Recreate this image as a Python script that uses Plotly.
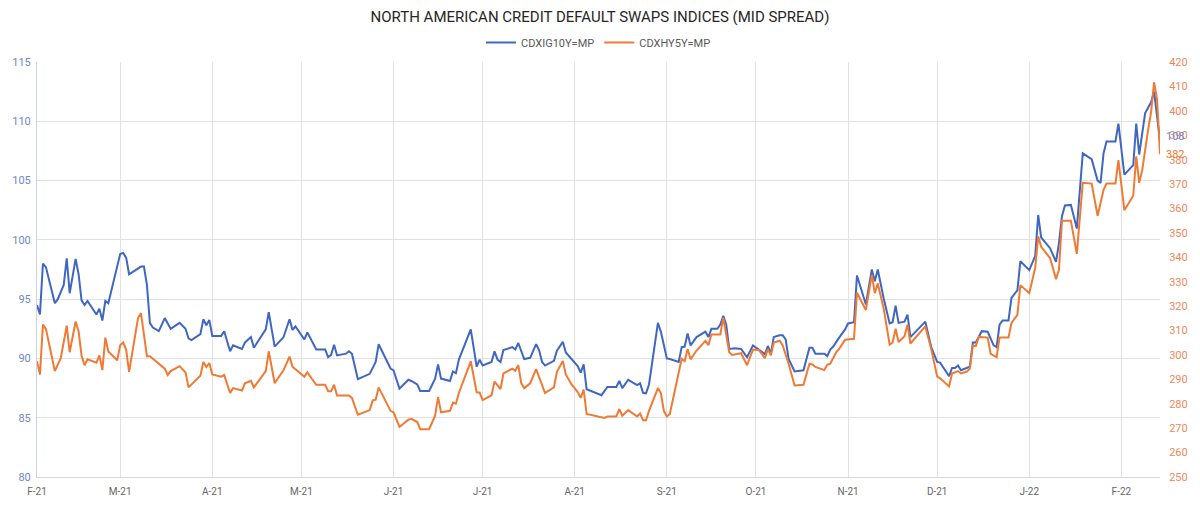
import plotly.graph_objects as go

# ---------------- data ----------------
ig_dates = [
    "2021-02-01", "2021-02-02", "2021-02-03", "2021-02-04", "2021-02-07", "2021-02-08", "2021-02-10", "2021-02-11",
    "2021-02-12", "2021-02-13", "2021-02-14", "2021-02-15", "2021-02-16", "2021-02-17", "2021-02-18", "2021-02-21",
    "2021-02-22", "2021-02-23", "2021-02-24", "2021-02-25", "2021-03-01", "2021-03-02", "2021-03-03", "2021-03-04",
    "2021-03-08", "2021-03-09", "2021-03-10", "2021-03-11", "2021-03-12", "2021-03-14", "2021-03-16", "2021-03-18",
    "2021-03-21", "2021-03-23", "2021-03-24", "2021-03-25", "2021-03-28", "2021-03-29", "2021-03-30", "2021-03-31",
    "2021-04-01", "2021-04-04", "2021-04-05", "2021-04-07", "2021-04-08", "2021-04-11", "2021-04-12", "2021-04-14",
    "2021-04-15", "2021-04-19", "2021-04-20", "2021-04-22", "2021-04-25", "2021-04-27", "2021-04-28", "2021-04-29",
    "2021-05-02", "2021-05-03", "2021-05-06", "2021-05-09", "2021-05-10", "2021-05-11", "2021-05-12", "2021-05-13",
    "2021-05-16", "2021-05-17", "2021-05-18", "2021-05-20", "2021-05-24", "2021-05-26", "2021-05-27", "2021-05-31",
    "2021-06-01", "2021-06-03", "2021-06-06", "2021-06-07", "2021-06-09", "2021-06-10", "2021-06-13", "2021-06-15",
    "2021-06-16", "2021-06-17", "2021-06-20", "2021-06-21", "2021-06-22", "2021-06-23", "2021-06-27", "2021-06-29",
    "2021-06-30", "2021-07-01", "2021-07-04", "2021-07-05", "2021-07-06", "2021-07-07", "2021-07-08", "2021-07-11",
    "2021-07-12", "2021-07-13", "2021-07-15", "2021-07-17", "2021-07-19", "2021-07-20", "2021-07-21", "2021-07-22",
    "2021-07-25", "2021-07-26", "2021-07-28", "2021-07-29", "2021-08-01", "2021-08-02", "2021-08-03", "2021-08-04",
    "2021-08-05", "2021-08-08", "2021-08-10", "2021-08-12", "2021-08-15", "2021-08-16", "2021-08-17", "2021-08-19",
    "2021-08-22", "2021-08-23", "2021-08-24", "2021-08-25", "2021-08-26", "2021-08-29", "2021-08-30", "2021-09-01",
    "2021-09-02", "2021-09-05", "2021-09-06", "2021-09-07", "2021-09-08", "2021-09-09", "2021-09-11", "2021-09-14",
    "2021-09-15", "2021-09-16", "2021-09-18", "2021-09-19", "2021-09-20", "2021-09-21", "2021-09-22", "2021-09-24",
    "2021-09-26", "2021-09-28", "2021-09-30", "2021-10-03", "2021-10-04", "2021-10-05", "2021-10-06", "2021-10-07",
    "2021-10-09", "2021-10-10", "2021-10-11", "2021-10-12", "2021-10-14", "2021-10-17", "2021-10-19", "2021-10-20",
    "2021-10-21", "2021-10-24", "2021-10-25", "2021-10-26", "2021-10-27", "2021-10-29", "2021-10-31", "2021-11-01",
    "2021-11-03", "2021-11-04", "2021-11-07", "2021-11-09", "2021-11-10", "2021-11-11", "2021-11-13", "2021-11-15",
    "2021-11-16", "2021-11-17", "2021-11-18", "2021-11-20", "2021-11-21", "2021-11-22", "2021-11-27", "2021-11-29",
    "2021-12-01", "2021-12-02", "2021-12-05", "2021-12-06", "2021-12-07", "2021-12-08", "2021-12-09", "2021-12-12",
    "2021-12-13", "2021-12-14", "2021-12-16", "2021-12-18", "2021-12-20", "2021-12-21", "2021-12-22", "2021-12-23",
    "2021-12-25", "2021-12-26", "2021-12-28", "2021-12-29", "2022-01-01", "2022-01-03", "2022-01-04", "2022-01-05",
    "2022-01-08", "2022-01-10", "2022-01-11", "2022-01-12", "2022-01-13", "2022-01-15", "2022-01-17", "2022-01-19",
    "2022-01-22", "2022-01-24", "2022-01-25", "2022-01-26", "2022-01-27", "2022-01-30", "2022-01-31", "2022-02-02",
    "2022-02-05", "2022-02-06", "2022-02-07", "2022-02-09", "2022-02-11", "2022-02-12", "2022-02-14",
]
ig_values = [
    94.5, 93.7, 98.0, 97.7, 94.65, 95.0, 96.2, 98.45,
    95.5, 97.0, 98.4, 97.1, 94.9, 94.5, 94.85, 93.7,
    94.2, 93.2, 94.85, 94.65, 98.8, 98.9, 98.5, 97.1,
    97.75, 97.75, 96.2, 93.0, 92.6, 92.3, 93.4, 92.5,
    93.0, 92.5, 91.7, 91.55, 92.05, 93.3, 92.8, 93.25,
    91.9, 91.9, 92.3, 90.6, 91.1, 90.8, 91.35, 91.8,
    90.9, 92.45, 93.9, 91.0, 91.8, 93.3, 92.4, 92.7,
    91.6, 92.2, 90.75, 90.75, 90.1, 90.3, 91.15, 90.25,
    90.4, 90.6, 90.4, 88.25, 88.7, 89.7, 91.2, 89.15,
    89.0, 87.45, 88.2, 88.1, 87.8, 87.25, 87.25, 88.3,
    89.5, 88.3, 88.1, 88.9, 88.75, 89.9, 92.45, 89.3,
    89.9, 89.4, 89.7, 90.6, 89.9, 89.7, 90.7, 90.95,
    90.75, 91.3, 89.95, 90.05, 91.2, 90.7, 89.7, 89.4,
    89.8, 90.65, 91.4, 90.5, 89.6, 89.35, 88.8, 89.5,
    87.4, 87.1, 86.9, 87.6, 87.6, 88.1, 87.5, 88.2,
    87.75, 87.9, 87.1, 87.05, 87.8, 93.0, 92.25, 90.0,
    89.95, 89.7, 90.95, 91.0, 92.1, 91.1, 91.8, 92.25,
    91.8, 92.5, 92.5, 92.85, 93.6, 92.85, 90.8, 90.85,
    90.8, 90.1, 91.1, 90.55, 90.35, 91.05, 90.4, 91.8,
    91.95, 91.95, 91.6, 89.95, 88.9, 89.0, 90.9, 90.9,
    90.4, 90.4, 90.2, 90.75, 91.0, 91.75, 92.45, 92.95,
    93.05, 97.0, 94.55, 97.5, 96.5, 97.5, 95.05, 92.95,
    93.05, 94.45, 93.0, 93.1, 93.7, 91.8, 93.1, 90.95,
    89.7, 89.65, 88.5, 89.2, 89.2, 89.4, 89.0, 89.3,
    91.35, 91.35, 92.3, 92.25, 91.1, 90.95, 92.85, 93.2,
    93.2, 95.1, 95.75, 98.2, 97.45, 98.65, 102.1, 100.2,
    99.3, 98.15, 99.75, 102.0, 102.9, 102.95, 100.95, 107.3,
    106.8, 105.0, 104.8, 107.3, 108.3, 108.3, 109.8, 105.5,
    106.3, 109.8, 107.2, 110.7, 111.6, 112.5, 108.4,
]

hy_dates = [
    "2021-02-01", "2021-02-02", "2021-02-03", "2021-02-04", "2021-02-07", "2021-02-09", "2021-02-11", "2021-02-12",
    "2021-02-14", "2021-02-15", "2021-02-16", "2021-02-17", "2021-02-18", "2021-02-21", "2021-02-22", "2021-02-23",
    "2021-02-24", "2021-02-25", "2021-02-28", "2021-03-01", "2021-03-02", "2021-03-03", "2021-03-04", "2021-03-07",
    "2021-03-08", "2021-03-09", "2021-03-10", "2021-03-11", "2021-03-16", "2021-03-17", "2021-03-18", "2021-03-21",
    "2021-03-23", "2021-03-24", "2021-03-28", "2021-03-29", "2021-03-30", "2021-03-31", "2021-04-01", "2021-04-04",
    "2021-04-05", "2021-04-07", "2021-04-08", "2021-04-11", "2021-04-12", "2021-04-14", "2021-04-15", "2021-04-19",
    "2021-04-20", "2021-04-22", "2021-04-25", "2021-04-27", "2021-04-28", "2021-05-02", "2021-05-03", "2021-05-06",
    "2021-05-09", "2021-05-10", "2021-05-11", "2021-05-12", "2021-05-13", "2021-05-17", "2021-05-18", "2021-05-20",
    "2021-05-24", "2021-05-25", "2021-05-26", "2021-05-27", "2021-05-31", "2021-06-01", "2021-06-03", "2021-06-06",
    "2021-06-07", "2021-06-09", "2021-06-10", "2021-06-13", "2021-06-15", "2021-06-16", "2021-06-17", "2021-06-20",
    "2021-06-21", "2021-06-22", "2021-06-23", "2021-06-27", "2021-06-29", "2021-06-30", "2021-07-01", "2021-07-04",
    "2021-07-05", "2021-07-07", "2021-07-08", "2021-07-11", "2021-07-12", "2021-07-13", "2021-07-14", "2021-07-15",
    "2021-07-17", "2021-07-19", "2021-07-21", "2021-07-22", "2021-07-25", "2021-07-26", "2021-07-28", "2021-07-29",
    "2021-07-31", "2021-08-02", "2021-08-03", "2021-08-04", "2021-08-05", "2021-08-08", "2021-08-11", "2021-08-12",
    "2021-08-15", "2021-08-16", "2021-08-17", "2021-08-19", "2021-08-22", "2021-08-23", "2021-08-24", "2021-08-25",
    "2021-08-26", "2021-08-29", "2021-08-30", "2021-08-31", "2021-09-01", "2021-09-02", "2021-09-06", "2021-09-07",
    "2021-09-08", "2021-09-09", "2021-09-11", "2021-09-14", "2021-09-15", "2021-09-16", "2021-09-19", "2021-09-20",
    "2021-09-21", "2021-09-22", "2021-09-23", "2021-09-26", "2021-09-28", "2021-09-30", "2021-10-02", "2021-10-04",
    "2021-10-05", "2021-10-06", "2021-10-07", "2021-10-09", "2021-10-10", "2021-10-12", "2021-10-14", "2021-10-17",
    "2021-10-19", "2021-10-20", "2021-10-21", "2021-10-24", "2021-10-25", "2021-10-26", "2021-10-28", "2021-10-29",
    "2021-10-31", "2021-11-03", "2021-11-04", "2021-11-07", "2021-11-09", "2021-11-10", "2021-11-11", "2021-11-13",
    "2021-11-15", "2021-11-16", "2021-11-17", "2021-11-18", "2021-11-20", "2021-11-21", "2021-11-22", "2021-11-27",
    "2021-11-29", "2021-12-01", "2021-12-02", "2021-12-05", "2021-12-06", "2021-12-07", "2021-12-08", "2021-12-09",
    "2021-12-11", "2021-12-12", "2021-12-13", "2021-12-14", "2021-12-15", "2021-12-18", "2021-12-19", "2021-12-21",
    "2021-12-22", "2021-12-25", "2021-12-26", "2021-12-28", "2021-12-29", "2022-01-01", "2022-01-03", "2022-01-04",
    "2022-01-05", "2022-01-08", "2022-01-10", "2022-01-11", "2022-01-12", "2022-01-15", "2022-01-17", "2022-01-19",
    "2022-01-22", "2022-01-24", "2022-01-26", "2022-01-27", "2022-01-30", "2022-01-31", "2022-02-02", "2022-02-05",
    "2022-02-06", "2022-02-07", "2022-02-08", "2022-02-10", "2022-02-11", "2022-02-12", "2022-02-13", "2022-02-14",
]
hy_values = [
    297.4, 292.0, 312.4, 310.7, 293.4, 298.7, 312.0, 301.1,
    313.7, 309.7, 299.8, 295.8, 298.2, 296.8, 299.8, 293.8,
    307.1, 301.4, 297.8, 304.0, 305.1, 302.2, 293.1, 315.1,
    317.1, 308.4, 299.5, 299.5, 294.4, 291.8, 293.4, 295.4,
    292.8, 286.7, 291.5, 297.1, 295.1, 296.7, 292.0, 291.1,
    291.8, 284.4, 286.4, 285.4, 288.4, 289.4, 286.7, 293.4,
    301.5, 288.4, 293.8, 299.3, 295.2, 291.1, 292.8, 287.8,
    287.8, 285.1, 285.1, 287.8, 283.4, 283.4, 282.4, 275.5,
    277.4, 281.4, 281.7, 286.7, 277.1, 276.5, 270.5, 273.5,
    273.8, 272.5, 269.6, 269.6, 275.1, 282.7, 276.5, 277.1,
    280.5, 280.0, 284.4, 297.4, 284.7, 284.6, 281.5, 283.5,
    289.1, 286.0, 292.4, 294.4, 293.5, 295.8, 288.4, 286.4,
    288.4, 294.2, 287.1, 284.4, 286.7, 293.1, 297.5, 292.0,
    287.8, 284.8, 282.4, 285.8, 275.8, 275.1, 274.2, 274.8,
    274.8, 277.8, 275.1, 277.4, 274.8, 276.0, 273.2, 273.2,
    277.1, 286.4, 284.4, 277.1, 274.8, 275.8, 298.4, 297.4,
    302.4, 298.2, 301.8, 305.8, 304.0, 308.4, 308.4, 315.3,
    307.8, 301.1, 300.0, 300.7, 295.8, 302.2, 302.0, 298.7,
    302.4, 299.8, 305.1, 305.8, 303.9, 296.4, 287.5, 287.8,
    296.4, 296.1, 295.1, 293.8, 296.0, 296.4, 301.1, 302.5,
    306.2, 306.6, 325.5, 318.4, 332.8, 325.3, 329.3, 319.0,
    304.2, 305.1, 310.7, 305.3, 307.7, 312.4, 304.7, 311.7,
    302.4, 291.1, 290.4, 287.1, 292.4, 292.8, 293.4, 292.4,
    293.2, 294.4, 303.8, 303.6, 307.4, 307.1, 300.4, 299.1,
    307.1, 307.1, 313.1, 316.4, 328.6, 325.3, 335.7, 348.6,
    344.3, 339.7, 331.0, 335.0, 355.0, 355.0, 341.4, 370.5,
    370.2, 357.0, 367.6, 370.2, 370.2, 379.8, 359.3, 365.2,
    381.3, 370.5, 375.6, 392.2, 399.5, 411.7, 404.8, 382.2,
]

month_ticks = [
    "2021-02-01", "2021-03-01", "2021-04-01", "2021-05-01", "2021-06-01", "2021-07-01", "2021-08-01",
    "2021-09-01", "2021-10-01", "2021-11-01", "2021-12-01", "2022-01-01", "2022-02-01",
]
month_labels = ["F-21", "M-21", "A-21", "M-21", "J-21", "J-21", "A-21",
                "S-21", "O-21", "N-21", "D-21", "J-22", "F-22"]

ig_name = "CDXIG10Y=MP"
hy_name = "CDXHY5Y=MP"
title_text = "NORTH AMERICAN CREDIT DEFAULT SWAPS INDICES (MID SPREAD)"

# ---------------- styling ----------------
BLUE = "#3f67c2"
ORANGE = "#f07a33"
FONT = "Roboto, 'Noto Sans', sans-serif"

fig = go.Figure()
fig.add_trace(go.Scatter(x=ig_dates, y=ig_values, name=ig_name, mode="lines",
                         line=dict(color=BLUE, width=2), yaxis="y"))
fig.add_trace(go.Scatter(x=hy_dates, y=hy_values, name=hy_name, mode="lines",
                         line=dict(color=ORANGE, width=2), yaxis="y2"))

# last-value labels
fig.add_annotation(x=ig_dates[-1], y=ig_values[-1], yref="y", xref="x",
                   text=f"{ig_values[-1]:.0f}", showarrow=False, xanchor="left",
                   xshift=4, yshift=4, font=dict(color="#6f86cc", size=11, family=FONT))
fig.add_annotation(x=hy_dates[-1], y=hy_values[-1], yref="y2", xref="x",
                   text=f"{hy_values[-1]:.0f}", showarrow=False, xanchor="left",
                   xshift=4, yshift=0, font=dict(color=ORANGE, size=11, family=FONT))

fig.update_layout(
    width=1200, height=509,
    margin=dict(l=27, r=32, t=62, b=22),
    paper_bgcolor="white", plot_bgcolor="white",
    font=dict(family=FONT, color="#595959"),
    title=dict(text=title_text, x=0.5, xanchor="center", y=1 - 17 / 509, yanchor="middle",
               yref="container", font=dict(size=15, color="#262626", family=FONT)),
    legend=dict(orientation="h", x=0.5, xanchor="center", y=1.047, yanchor="middle",
                font=dict(size=11, color="#595959"), itemwidth=30, bgcolor="rgba(0,0,0,0)"),
    showlegend=True,
    xaxis=dict(
        type="date", range=[month_ticks[0], hy_dates[-1]],
        tickmode="array", tickvals=month_ticks, ticktext=month_labels,
        showgrid=True, gridcolor="#e2e2e2", gridwidth=1,
        showline=True, linecolor="#d9d9d9", linewidth=1,
        ticks="outside", ticklen=5, tickcolor="rgba(0,0,0,0)",
        tickfont=dict(size=10, color="#666666"), zeroline=False,
    ),
    yaxis=dict(
        range=[80, 115], dtick=5, tick0=80,
        showgrid=True, gridcolor="#e2e2e2", gridwidth=1,
        showline=True, linecolor="#cdd3ec", linewidth=1,
        ticks="outside", ticklen=3, tickcolor="rgba(0,0,0,0)",
        tickfont=dict(size=11, color="#6f86cc"), zeroline=False,
    ),
    yaxis2=dict(
        range=[250, 420], dtick=10, tick0=250, overlaying="y", side="right",
        showgrid=False, showline=False, zeroline=False,
        ticks="outside", ticklen=6, tickcolor="rgba(0,0,0,0)",
        tickfont=dict(size=11, color="#f0875a"),
    ),
)

fig.write_html("out.html")
